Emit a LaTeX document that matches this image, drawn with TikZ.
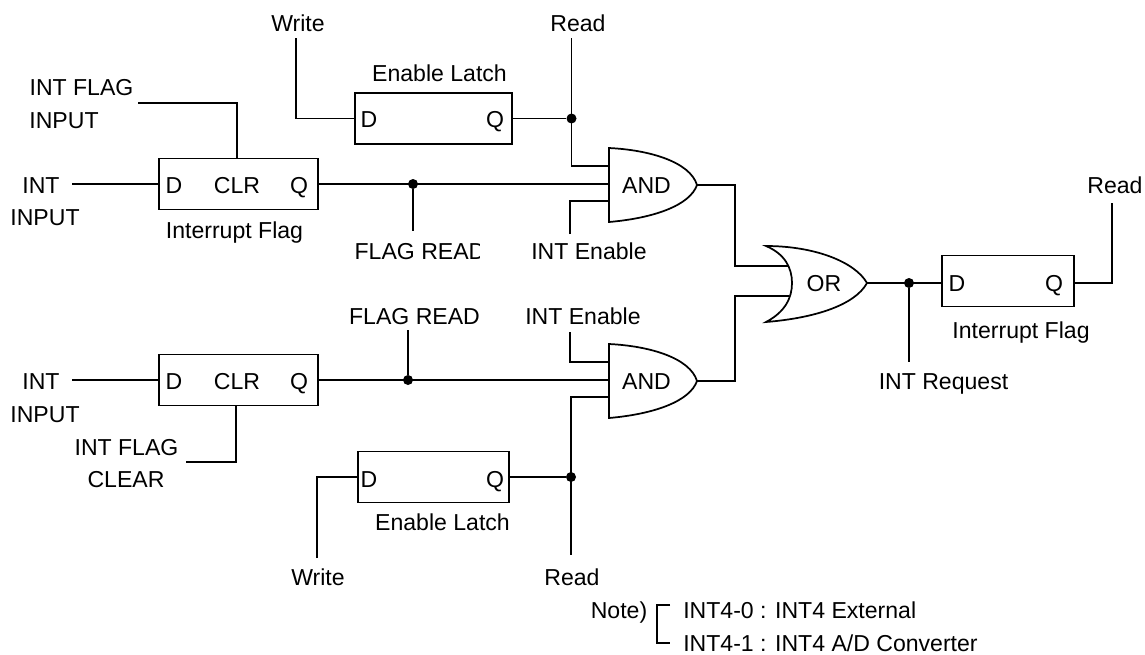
\documentclass[tikz,border=0pt]{standalone}
\usepackage{fontspec}
\setmainfont{Liberation Sans}
\tikzset{
  wire/.style={line width=1.2pt,line cap=butt,line join=miter},
  gate/.style={line width=1.3pt,fill=white},
  ff/.style={draw,line width=1.2pt,minimum width=#1*0.75pt,minimum height=38.5pt,inner sep=0pt,fill=white},
  lbl/.style={inner sep=0pt,text height=12.4pt,text depth=0pt,font=\fontsize{17.3pt}{20pt}\selectfont},
  dot/.style={circle,fill=black,inner sep=0pt,minimum size=7.5pt}
}
\begin{document}
\begin{tikzpicture}[x=0.75pt,y=-0.75pt]
\useasboundingbox (0,0) rectangle (1145,654);
% flip-flop boxes
\node[ff=159] (F1) at (238.5,184) {};
\node[ff=157] (L1) at (433.5,118.5) {};
\node[ff=159] (F2) at (238.5,380) {};
\node[ff=151] (L2) at (433.5,477) {};
\node[ff=132] (F3) at (1008,281) {};
% named pins
\coordinate (a1t) at (609,166); \coordinate (a1m) at (609,184); \coordinate (a1b) at (609,201); \coordinate (a1o) at (697,185);
\coordinate (a2t) at (609,362); \coordinate (a2m) at (609,380); \coordinate (a2b) at (609,397); \coordinate (a2o) at (697,381);
\coordinate (o1) at (788,266); \coordinate (o2) at (789,296); \coordinate (oo) at (867,283);
\node[dot] (d1) at (571.5,118.5) {};
\node[dot] (d2) at (413,184) {};
\node[dot] (d3) at (408,380) {};
\node[dot] (d4) at (571,477) {};
\node[dot] (d5) at (909,283) {};
% free ends
\coordinate (w1) at (296,38); \coordinate (r1) at (571.5,38);
\coordinate (i1) at (138,103); \coordinate (n1) at (72,184);
\coordinate (fr1) at (413,231); \coordinate (e1) at (570,234);
\coordinate (n2) at (72,380); \coordinate (c2) at (186,462);
\coordinate (fr2) at (408,330); \coordinate (e2) at (570,332);
\coordinate (w2) at (317,558); \coordinate (r2) at (571,555);
\coordinate (ir) at (909,362); \coordinate (r3) at (1112,203);
% wires
\draw[wire] (w1) |- (L1.west);
\draw[wire] (L1.east) -- (d1);
\draw[wire] (r1) -- (r1 |- a1t) -- (a1t);
\draw[wire] (i1) -| ([xshift=-1.1pt]F1.north);
\draw[wire] (n1) -- (F1.west);
\draw[wire] (F1.east) -- (a1m);
\draw[wire] (d2) -- (fr1);
\draw[wire] (e1) |- (a1b);
\draw[wire] (n2) -- (F2.west);
\draw[wire] (F2.east) -- (a2m);
\draw[wire] ([xshift=-1.9pt]F2.south) |- (c2);
\draw[wire] (fr2) -- (d3);
\draw[wire] (e2) |- (a2t);
\draw[wire] (a2b) -| (r2);
\draw[wire] (w2) |- (L2.west);
\draw[wire] (L2.east) -- (d4);
\draw[wire] (a1o) -- ++(38,0) |- (o1);
\draw[wire] (a2o) -- ++(38,0) |- (o2);
\draw[wire] (oo) -- (oo -| F3.west);
\draw[wire] (d5) -- (ir);
\draw[wire] (oo -| F3.east) -| (r3);
% gates
\draw[gate] (609,148) .. controls (650,150) and (690,162) .. (a1o) .. controls (690,205) and (655,218) .. (609,222) -- cycle;
\draw[gate] (609,344) .. controls (650,346) and (690,358) .. (a2o) .. controls (690,401) and (655,414) .. (609,418) -- cycle;
\draw[gate] (766,246) .. controls (815,246) and (855,262) .. (oo) .. controls (855,305) and (815,318) .. (766,322) .. controls (785,312) and (792,298) .. (792,283) .. controls (792,268) and (785,254) .. (766,246) -- cycle;
% gate labels
\node[lbl] (ga1) at (646.5,185) {AND};
\node[lbl] (ga2) at (646.5,381) {AND};
\node[lbl] (go) at (824,283) {OR};
% box letters
\node[lbl] (t1) at (174,185) {D};
\node[lbl] (t2) at (237,185) {CLR};
\node[lbl] (t3) at (299,185) {Q};
\node[lbl] (t4) at (174,381) {D};
\node[lbl] (t5) at (237,381) {CLR};
\node[lbl] (t6) at (299,381) {Q};
\node[lbl] (t7) at (369,119) {D};
\node[lbl] (t8) at (495,119) {Q};
\node[lbl] (t9) at (369,479) {D};
\node[lbl] (t10) at (495,479) {Q};
\node[lbl] (t11) at (957,283) {D};
\node[lbl] (t12) at (1054,283) {Q};
% labels
\node[lbl] (x1) at (298,23.5) {Write};
\node[lbl] (x2) at (578,23.5) {Read};
\node[lbl] (x3) at (439.5,73) {Enable Latch};
\node[lbl] (x4) at (81.5,87.5) {INT FLAG};
\node[lbl] (x5) at (64,120) {INPUT};
\node[lbl] (x6) at (41,185) {INT};
\node[lbl] (x7) at (45,217.5) {INPUT};
\node[lbl] (x8) at (234.5,230) {Interrupt Flag};
\node[lbl] (x9) at (420,251) {FLAG READ};
\fill[white] (480,238) rectangle (490,262);
\node[lbl] (x10) at (589,251) {INT Enable};
\node[lbl] (x11) at (414.5,316) {FLAG READ};
\node[lbl] (x12) at (583,316) {INT Enable};
\node[lbl] (x13) at (41,381) {INT};
\node[lbl] (x14) at (45,414) {INPUT};
\node[lbl] (x15) at (126.5,447) {INT FLAG};
\node[lbl] (x16) at (126,479) {CLEAR};
\node[lbl] (x17) at (442.5,522) {Enable Latch};
\node[lbl] (x18) at (318,577) {Write};
\node[lbl] (x19) at (572,577) {Read};
\node[lbl] (x20) at (1021,330) {Interrupt Flag};
\node[lbl] (x21) at (943.5,381) {INT Request};
\node[lbl] (x22) at (1115,185) {Read};
\node[lbl] (x23) at (619,610) {Note)};
\node[lbl,anchor=west] (x24) at (683,610) {INT4-0 : INT4 External};
\node[lbl,anchor=west] (x25) at (683,643) {INT4-1 : INT4 A/D Converter};
% bracket
\coordinate (b1) at (670,605); \coordinate (b2) at (670,643);
\draw[wire] (b1) -- (657,605) -- (657,643) -- (b2);
\end{tikzpicture}
\end{document}
